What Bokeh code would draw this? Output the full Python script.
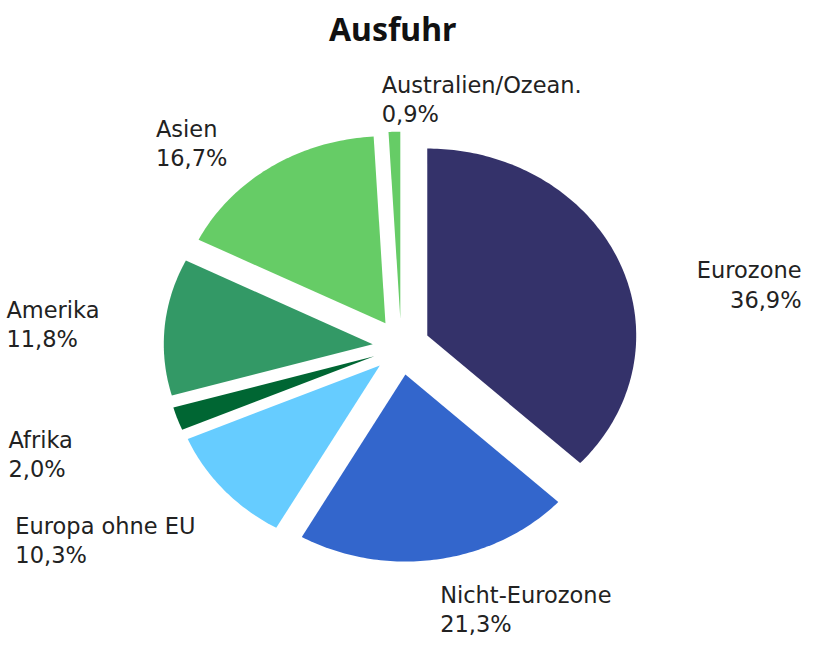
import numpy as np
from bokeh.plotting import figure
from bokeh.models import Range1d, ColumnDataSource
from bokeh.core.properties import value
from bokeh.embed import file_html
from bokeh.resources import INLINE

# ---- data ----
categories = ["Eurozone", "Nicht-Eurozone", "Europa ohne EU", "Afrika", "Amerika", "Asien", "Australien/Ozean."]
shares = [36.9, 21.3, 10.3, 2.0, 11.8, 16.7, 0.9]
colors = ["#34326a", "#3366cc", "#66ccff", "#006633", "#339966", "#66cc66", "#66cc66"]
title_text = "Ausfuhr"

# ---- layout constants (in reference-picture px) ----
W, H = 806, 639
VIEW_X0, VIEW_X1 = 8, 822     # part of the reference shown
VIEW_Y0, VIEW_Y1 = 6, 662
CX, CY = 412.6, 361.5         # pie centre
RX, RY = 211.0, 192.0         # px per unit radius (horizontal / vertical)
EXPLODE_PX = 28.8             # explosion distance

x0, x1 = (VIEW_X0 - CX) / RX, (VIEW_X1 - CX) / RX
y1, y0 = (CY - VIEW_Y0) / RY, (CY - VIEW_Y1) / RY


def to_data(px, py):
    return (px - CX) / RX, (CY - py) / RY


p = figure(width=W, height=H, output_backend="svg", toolbar_location=None,
           x_range=Range1d(x0, x1), y_range=Range1d(y0, y1),
           min_border=0, outline_line_color=None, background_fill_color="white",
           border_fill_color="white")
p.axis.visible = False
p.grid.visible = False

total = sum(shares)
xs, ys = [], []
start = 0.0
for v in shares:
    a0 = start / total * 2 * np.pi
    a1 = (start + v) / total * 2 * np.pi
    mid = (a0 + a1) / 2
    ox = EXPLODE_PX / RX * np.sin(mid)
    oy = EXPLODE_PX / RY * np.cos(mid)
    t = np.linspace(a0, a1, max(8, int(v * 4)))
    px = np.concatenate([[ox], ox + np.sin(t)])
    py = np.concatenate([[oy], oy + np.cos(t)])
    xs.append(list(px))
    ys.append(list(py))
    start += v

p.patches(xs=xs, ys=ys, fill_color=colors, line_color=None)

# ---- labels ----
# (x, baseline y of first line, align)
label_pos = [
    (817, 283, "right"),
    (452, 616, "left"),
    (23, 545, "left"),
    (16, 457, "left"),
    (14, 324, "left"),
    (165, 138, "left"),
    (393, 93, "left"),
]
LINE = 30
lx, ly, lt, la = [], [], [], []
for name, v, (px, py, al) in zip(categories, shares, label_pos):
    pct = f"{v:.1f}".replace(".", ",") + "%"
    for i, s in enumerate([name, pct]):
        dx, dy = to_data(px, py + i * LINE)
        lx.append(dx); ly.append(dy); lt.append(s); la.append(al)

src = ColumnDataSource(dict(x=lx, y=ly, text=lt, align=la))
p.text(x="x", y="y", text="text", source=src, text_align="align",
       text_baseline="alphabetic", text_font=value("DejaVu Sans"),
       text_font_size="22.5px", text_color="#222222")

tx, ty = to_data(404, 35)
p.text(x=[tx], y=[ty], text=[title_text], text_align="center", text_baseline="alphabetic",
       text_font=value("Noto Sans"), text_font_style="bold", text_font_size="32px",
       text_color="#111111")

open("out.html", "w").write(file_html(p, INLINE))
